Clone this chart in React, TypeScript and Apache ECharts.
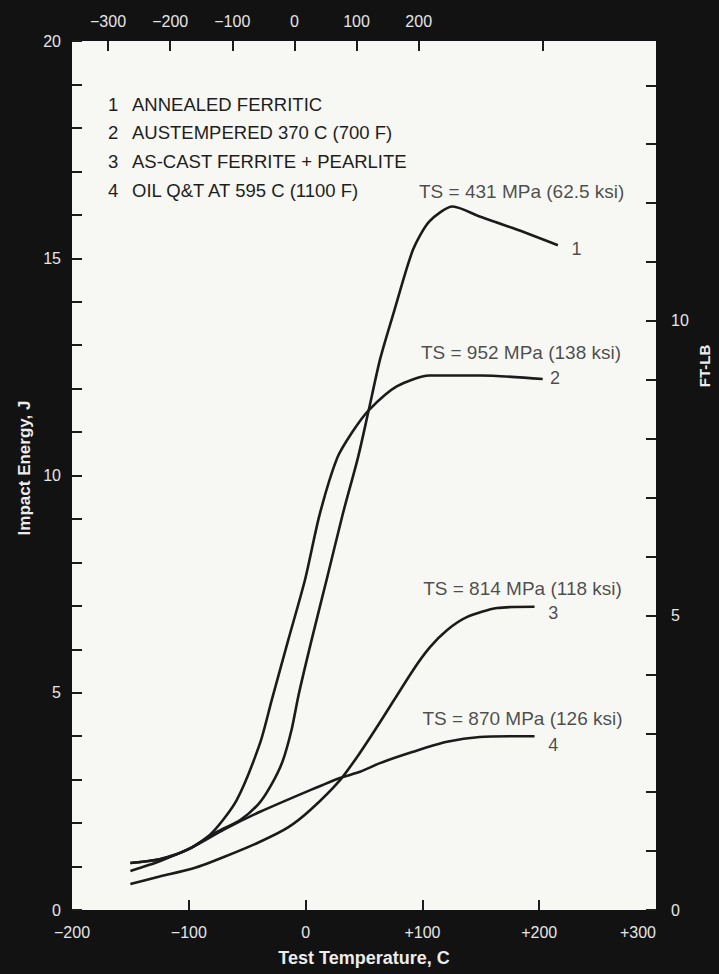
import React, { useEffect, useRef } from "react";
import * as echarts from "echarts";

const W = 719;
const H = 974;
const FONT = '"Liberation Sans", Arial, Helvetica, sans-serif';

// Curve 1: annealed ferritic
const c1Temp = [-150, -125, -100, -76, -56, -40, -30, -20, -12, -6, 5, 18, 32, 45, 54, 64, 76, 92, 106, 126, 149, 178, 216];
const c1Energy = [1.08, 1.17, 1.4, 1.8, 2.07, 2.45, 2.85, 3.4, 4.15, 4.95, 6.2, 7.6, 9.13, 10.43, 11.5, 12.7, 13.8, 15.2, 15.85, 16.19, 15.96, 15.69, 15.3];
// Curve 2: austempered 370 C
const c2Temp = [-150, -125, -100, -80, -59, -39, -29, -15, -0.5, 12, 27, 40, 54, 78, 106, 150, 203];
const c2Energy = [1.08, 1.17, 1.4, 1.78, 2.53, 3.84, 4.83, 6.2, 7.6, 9.1, 10.4, 11.0, 11.5, 12.05, 12.3, 12.3, 12.22];
// Curve 3: as-cast ferrite + pearlite
const c3Temp = [-150, -125, -96, -70, -39, -15, 4, 29.5, 46.6, 63.7, 92, 106.5, 121, 138, 164, 196];
const c3Energy = [0.6, 0.77, 0.96, 1.22, 1.57, 1.9, 2.3, 2.99, 3.62, 4.32, 5.52, 6.05, 6.44, 6.74, 6.95, 6.98];
// Curve 4: oil Q&T at 595 C
const c4Temp = [-150, -125, -96, -70, -39, 4, 29.5, 46.6, 63.7, 92, 121, 149, 196];
const c4Energy = [0.9, 1.12, 1.46, 1.85, 2.26, 2.76, 3.04, 3.18, 3.38, 3.64, 3.87, 3.98, 4.0];

const curveTemps = [c1Temp, c2Temp, c3Temp, c4Temp];
const curveEnergies = [c1Energy, c2Energy, c3Energy, c4Energy];
const curveNames = ["1", "2", "3", "4"];

const bottomTickValues = [-100, 0, 100, 200];
const topTickValuesF = [-300, -200, -100, 0, 100, 200, 400];
const topLabelValuesF = [-300, -200, -100, 0, 100, 200];
const ftlbTickValues = [0, 1, 2, 3, 4, 5, 6, 7, 8, 9, 10, 11, 12, 13, 14];
const ftlbLabelValues = [0, 5, 10];
const FTLB_PER_J = 0.737562;

const legendNumbers = ["1", "2", "3", "4"];
const legendLabels = [
  "ANNEALED FERRITIC",
  "AUSTEMPERED 370 C (700 F)",
  "AS-CAST FERRITE + PEARLITE",
  "OIL Q&T AT 595 C (1100 F)",
];

const annTexts = [
  "TS = 431 MPa (62.5 ksi)",
  "TS = 952 MPa (138 ksi)",
  "TS = 814 MPa (118 ksi)",
  "TS = 870 MPa (126 ksi)",
];
const annTemps = [185, 184.4, 185.7, 185.7];
const annEnergies = [16.53, 12.84, 7.41, 4.41];

const endLabels = ["1", "2", "3", "4"];
const endTemps = [232, 213.5, 212, 212];
const endEnergies = [15.21, 12.24, 6.83, 3.8];

const fmtC = (v: number) => (v > 0 ? "+" + v : v < 0 ? "\u2212" + -v : "0");
const fmtF = (v: number) => (v < 0 ? "\u2212" + -v : String(v));

export default function App() {
  const ref = useRef<HTMLDivElement>(null);
  useEffect(() => {
    document.body.style.margin = "0";
    document.body.style.background = "#121212";
    const chart = echarts.init(ref.current as HTMLDivElement, null, { renderer: "svg", width: W, height: H });

    const tickStyle = { color: "#1c1c1c", width: 2 };
    const labelColor = "#e6e6e6";
    const inkColor = "#1e1e1e";

    const lineSeries = curveTemps.map((temps, i) => ({
      type: "line",
      name: curveNames[i],
      xAxisIndex: 0,
      yAxisIndex: 0,
      data: temps.map((t, k) => [t, curveEnergies[i][k]]),
      showSymbol: false,
      smooth: 0.25,
      lineStyle: { color: "#1b1b1b", width: 2.6 },
      silent: true,
      z: 3,
    }));

    const textLabel = {
      show: true,
      position: "inside",
      formatter: (p: any) => p.data[2],
      color: inkColor,
      fontSize: 19,
      fontFamily: FONT,
    };

    const annSeries = {
      type: "scatter",
      xAxisIndex: 0,
      yAxisIndex: 0,
      symbol: "circle",
      symbolSize: 1,
      itemStyle: { color: "rgba(0,0,0,0)" },
      data: annTexts.map((t, i) => [annTemps[i], annEnergies[i], t]),
      label: textLabel,
      silent: true,
      z: 4,
    };

    const endSeries = {
      type: "scatter",
      xAxisIndex: 0,
      yAxisIndex: 0,
      symbol: "circle",
      symbolSize: 1,
      itemStyle: { color: "rgba(0,0,0,0)" },
      data: endLabels.map((t, i) => [endTemps[i], endEnergies[i], t]),
      label: { ...textLabel, fontSize: 18 },
      silent: true,
      z: 4,
    };

    const legendGraphics: any[] = [];
    legendLabels.forEach((lab, i) => {
      const y = 104 + i * 28.7;
      legendGraphics.push({
        type: "text",
        x: 108,
        y,
        style: { text: legendNumbers[i], fill: inkColor, font: `18.5px ${FONT}`, textVerticalAlign: "middle" },
        z: 10,
      });
      legendGraphics.push({
        type: "text",
        x: 132,
        y,
        style: { text: lab, fill: inkColor, font: `18.5px ${FONT}`, textVerticalAlign: "middle" },
        z: 10,
      });
    });

    const axisLineOff = { show: false, onZero: false };

    const option: any = {
      animation: false,
      backgroundColor: "#121212",
      grid: {
        left: 72,
        right: 63,
        top: 41,
        bottom: 64,
        show: true,
        backgroundColor: "#f7f7f4",
        borderWidth: 0,
      },
      xAxis: [
        {
          type: "value",
          position: "bottom",
          min: -200,
          max: 300,
          interval: 100,
          axisLine: axisLineOff,
          splitLine: { show: false },
          axisTick: { show: true, inside: true, length: 10, lineStyle: tickStyle, customValues: bottomTickValues },
          axisLabel: {
            color: labelColor,
            fontSize: 16,
            fontFamily: FONT,
            margin: 14,
            formatter: fmtC,
            alignMaxLabel: "right",
          },
        },
        {
          type: "value",
          position: "top",
          min: -358,
          max: 582,
          axisLine: axisLineOff,
          splitLine: { show: false },
          axisTick: { show: true, inside: true, length: 10, lineStyle: tickStyle, customValues: topTickValuesF },
          axisLabel: {
            color: labelColor,
            fontSize: 16,
            fontFamily: FONT,
            margin: 12,
            formatter: fmtF,
            customValues: topLabelValuesF,
          },
        },
      ],
      yAxis: [
        {
          type: "value",
          position: "left",
          min: 0,
          max: 20,
          interval: 1,
          axisLine: axisLineOff,
          splitLine: { show: false },
          axisTick: { show: true, inside: true, length: 10, lineStyle: tickStyle },
          axisLabel: {
            color: labelColor,
            fontSize: 16,
            fontFamily: FONT,
            margin: 11,
            formatter: (v: number) => (v % 5 === 0 ? String(v) : ""),
          },
        },
        {
          type: "value",
          position: "right",
          min: 0,
          max: 20 * FTLB_PER_J,
          axisLine: axisLineOff,
          splitLine: { show: false },
          axisTick: { show: true, inside: true, length: 10, lineStyle: tickStyle, customValues: ftlbTickValues },
          axisLabel: {
            color: labelColor,
            fontSize: 16,
            fontFamily: FONT,
            margin: 15,
            customValues: ftlbLabelValues,
            formatter: (v: number) => String(Math.round(v)),
          },
        },
      ],
      graphic: [
        ...legendGraphics,
        {
          type: "text",
          x: 24,
          y: 468,
          rotation: Math.PI / 2,
          style: {
            text: "Impact Energy, J",
            fill: "#ececec",
            font: `bold 17px ${FONT}`,
            textAlign: "center",
            textVerticalAlign: "middle",
          },
        },
        {
          type: "text",
          x: 364,
          y: 958,
          style: {
            text: "Test Temperature, C",
            fill: "#ececec",
            font: `bold 18px ${FONT}`,
            textAlign: "center",
            textVerticalAlign: "middle",
          },
        },
        {
          type: "text",
          x: 704,
          y: 366,
          rotation: Math.PI / 2,
          style: {
            text: "FT-LB",
            fill: "#ececec",
            font: `bold 15px ${FONT}`,
            textAlign: "center",
            textVerticalAlign: "middle",
          },
        },
      ],
      series: [...lineSeries, annSeries, endSeries],
    };

    chart.setOption(option);
    return () => chart.dispose();
  }, []);

  return (
    <div
      ref={ref}
      style={{ position: "absolute", left: 0, top: 0, width: W, height: H, background: "#121212" }}
    />
  );
}
